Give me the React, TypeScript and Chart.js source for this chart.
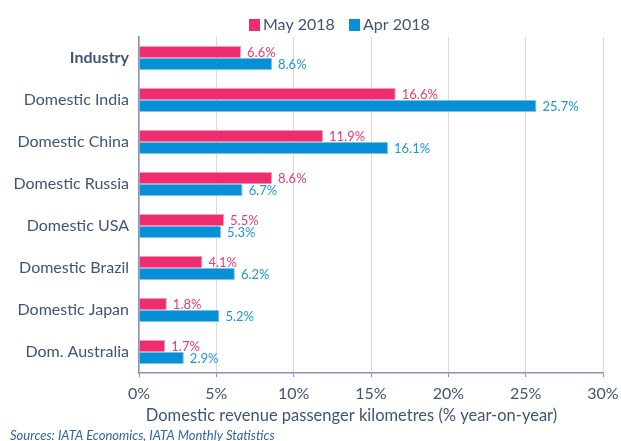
import React, { useEffect, useRef } from "react";
import { Chart, registerables } from "chart.js";

Chart.register(...registerables);

const categories = [
  "Industry",
  "Domestic India",
  "Domestic China",
  "Domestic Russia",
  "Domestic USA",
  "Domestic Brazil",
  "Domestic Japan",
  "Dom. Australia",
];
const may2018 = [6.6, 16.6, 11.9, 8.6, 5.5, 4.1, 1.8, 1.7];
const apr2018 = [8.6, 25.7, 16.1, 6.7, 5.3, 6.2, 5.2, 2.9];
const seriesNames = ["May 2018", "Apr 2018"];
const xTicks = [0, 5, 10, 15, 20, 25, 30];
const axisTitle = "Domestic revenue passenger kilometres (% year-on-year)";
const sourceText = "Sources: IATA Economics, IATA Monthly Statistics";

const FONT = "Lato, 'Liberation Sans', sans-serif";
const TEXT = "#3E5578";
const PINK = "#EE2C6F";
const BLUE = "#0890D6";
const PINK_TXT = "#EC3A72";
const BLUE_TXT = "#1C97D9";
const AXIS = "#8597B5";

const labelPlugin = {
  id: "valueLabels",
  afterDatasetsDraw(chart: any) {
    const ctx = chart.ctx;
    ctx.save();
    ctx.font = `13px ${FONT}`;
    ctx.textBaseline = "middle";
    ctx.textAlign = "left";
    chart.data.datasets.forEach((ds: any, di: number) => {
      const meta = chart.getDatasetMeta(di);
      ctx.fillStyle = di === 0 ? PINK_TXT : BLUE_TXT;
      meta.data.forEach((el: any, i: number) => {
        ctx.fillText(ds.data[i].toFixed(1) + "%", el.x + 6, el.y + 1);
      });
    });
    ctx.restore();
  },
};

const extrasPlugin = {
  id: "extras",
  afterDraw(chart: any) {
    const ctx = chart.ctx;
    ctx.save();
    // legend
    ctx.font = `16px ${FONT}`;
    ctx.textBaseline = "middle";
    ctx.textAlign = "left";
    const items = [
      { name: seriesNames[0], color: PINK, x: 249 },
      { name: seriesNames[1], color: BLUE, x: 349 },
    ];
    items.forEach((it) => {
      ctx.fillStyle = it.color;
      ctx.fillRect(it.x, 19, 11, 12);
      ctx.fillStyle = TEXT;
      ctx.fillText(it.name, it.x + 14, 25);
    });
    // axis title
    ctx.font = `16.5px ${FONT}`;
    ctx.textAlign = "center";
    ctx.fillStyle = TEXT;
    ctx.fillText(axisTitle, 351.5, 416);
    // source
    ctx.font = `italic 13px ${FONT}`;
    ctx.fillStyle = "#2F63AA";
    ctx.textAlign = "left";
    ctx.fillText(sourceText, 10, 436);
    ctx.restore();
  },
};

export default function App() {
  const ref = useRef<HTMLCanvasElement>(null);
  useEffect(() => {
    document.body.style.margin = "0";
    const chart = new Chart(ref.current!, {
      type: "bar",
      data: {
        labels: categories,
        datasets: [
          {
            label: seriesNames[0],
            data: may2018,
            backgroundColor: PINK,
            borderColor: "#F39AB8",
            borderWidth: { top: 1, right: 1, bottom: 0, left: 0 } as any,
            categoryPercentage: 0.58,
            barPercentage: 0.95,
          },
          {
            label: seriesNames[1],
            data: apr2018,
            backgroundColor: BLUE,
            borderColor: "#7CC4EA",
            borderWidth: { top: 0, right: 1, bottom: 1, left: 0 } as any,
            categoryPercentage: 0.58,
            barPercentage: 0.95,
          },
        ],
      },
      options: {
        indexAxis: "y",
        animation: false,
        responsive: false,
        layout: { padding: { left: 0, right: 18, top: 37, bottom: 0 } },
        plugins: {
          tooltip: { enabled: false },
          legend: { display: false },
        },
        scales: {
          x: {
            min: 0,
            max: 30,
            afterBuildTicks: (scale: any) => {
              scale.ticks = xTicks.map((v) => ({ value: v }));
            },
            afterFit: (scale: any) => {
              scale.height = 68;
              scale.paddingLeft = 0;
              scale.paddingRight = 0;
            },
            ticks: {
              color: TEXT,
              font: { family: FONT, size: 16 },
              padding: 7,
              callback: (v: any) => v + "%",
            },
            grid: {
              color: "#DCDCDC",
              tickColor: AXIS,
              tickLength: 4,
            },
            border: { color: AXIS, width: 1.5 },
          },
          y: {
            afterFit: (scale: any) => {
              scale.width = 139;
            },
            ticks: {
              color: TEXT,
              padding: 10,
              font: (c: any) => ({
                family: FONT,
                size: 16,
                weight: c.index === 0 ? "bold" : "normal",
              }),
            },
            grid: { display: false, drawTicks: false, tickLength: 0 },
            border: { color: AXIS, width: 1.5 },
          },
        },
      },
      plugins: [labelPlugin, extrasPlugin],
    });
    return () => chart.destroy();
  }, []);
  return (
    <div style={{ width: 621, height: 441, background: "#fff" }}>
      <canvas ref={ref} width={621} height={441} />
    </div>
  );
}
